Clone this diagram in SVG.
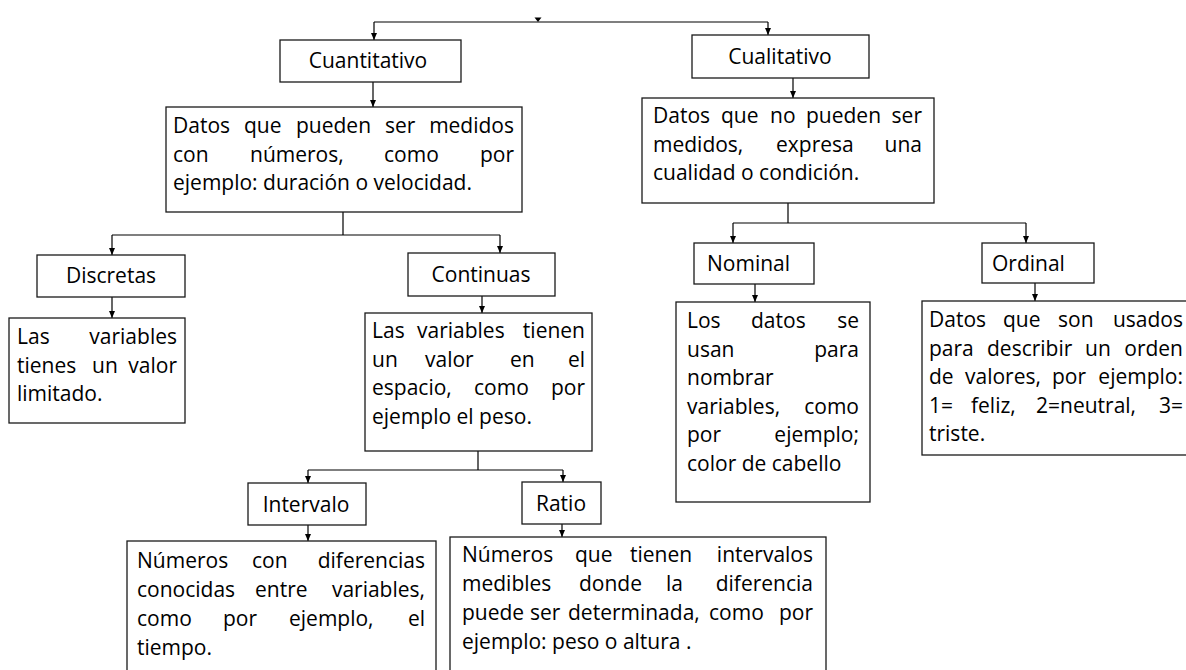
<svg xmlns="http://www.w3.org/2000/svg" width="1186" height="670" viewBox="0 0 1186 670">
<style>
.box{fill:#fff;stroke:#1a1a1a;stroke-width:1.3}
.t{font-family:"Open Sans","Liberation Sans",sans-serif;font-size:21px;fill:#000}
.c{text-anchor:middle}
.e{text-anchor:end}
.ln{stroke:#000;stroke-width:1.2;fill:none}
.ar{stroke:#000;stroke-width:1.2;fill:none;marker-end:url(#ah)}
</style>
<defs>
<marker id="ah" viewBox="0 0 7 6" refX="7" refY="3" markerWidth="7" markerHeight="6" markerUnits="userSpaceOnUse" orient="auto"><path d="M0,0 L7,3 L0,6 z" fill="#000"/></marker>
</defs>
<rect width="1186" height="670" fill="#fff"/>
<g id="connectors">
<path class="ln" d="M374,22 H768"/>
<polygon points="534.5,17.5 541.5,17.5 538,22" fill="#000"/>
<path class="ar" d="M374,22 V40"/>
<path class="ar" d="M768,22 V35"/>
<path class="ar" d="M373,82 V107"/>
<path class="ar" d="M793,78 V98"/>
<path class="ln" d="M343,212 V235 M112,235 H500"/>
<path class="ar" d="M112,235 V255"/>
<path class="ar" d="M500,235 V253"/>
<path class="ar" d="M112,297 V318"/>
<path class="ar" d="M482,296 V313"/>
<path class="ln" d="M788,203 V223 M733,223 H1026"/>
<path class="ar" d="M733,223 V243"/>
<path class="ar" d="M1026,223 V243"/>
<path class="ar" d="M755,284 V302"/>
<path class="ar" d="M1035,283 V301"/>
<path class="ln" d="M478,451 V470 M308,470 H563"/>
<path class="ar" d="M308,470 V483"/>
<path class="ar" d="M563,470 V482"/>
<path class="ar" d="M308,525 V541"/>
<path class="ar" d="M562,524 V537"/>
</g>
<g id="cuantitativo">
<rect class="box" x="280" y="40" width="181" height="42"/>
<text class="t c" x="368" y="68">Cuantitativo</text>
</g>
<g id="cualitativo">
<rect class="box" x="692" y="35" width="177" height="43"/>
<text class="t c" x="780" y="64">Cualitativo</text>
</g>
<g id="cuantitativo-desc">
<rect class="box" x="166" y="107" width="356" height="105"/>
<text class="t" y="133"><tspan x="173">Datos</tspan><tspan x="244">que</tspan><tspan x="296">pueden</tspan><tspan x="385">ser</tspan></text>
<text class="t e" x="514" y="133">medidos</text>
<text class="t" y="161.5"><tspan x="173">con</tspan><tspan x="250">números,</tspan><tspan x="384">como</tspan></text>
<text class="t e" x="514" y="161.5">por</text>
<text class="t" x="173" y="190">ejemplo: duración o velocidad.</text>
</g>
<g id="cualitativo-desc">
<rect class="box" x="642" y="98" width="292" height="105"/>
<text class="t" y="123"><tspan x="653">Datos</tspan><tspan x="721">que</tspan><tspan x="770">no</tspan><tspan x="806">pueden</tspan></text>
<text class="t e" x="922" y="123">ser</text>
<text class="t" y="151.5"><tspan x="653">medidos,</tspan><tspan x="776">expresa</tspan></text>
<text class="t e" x="922" y="151.5">una</text>
<text class="t" x="653" y="180">cualidad o condición.</text>
</g>
<g id="discretas">
<rect class="box" x="37" y="255" width="148" height="42"/>
<text class="t c" x="111" y="283">Discretas</text>
</g>
<g id="continuas">
<rect class="box" x="408" y="253" width="147" height="43"/>
<text class="t c" x="481" y="282">Continuas</text>
</g>
<g id="discretas-desc">
<rect class="box" x="9" y="318" width="176" height="105"/>
<text class="t" x="17" y="344">Las</text>
<text class="t e" x="177" y="344">variables</text>
<text class="t" y="372.5"><tspan x="17">tienes</tspan><tspan x="92">un</tspan></text>
<text class="t e" x="177" y="372.5">valor</text>
<text class="t" x="17" y="401">limitado.</text>
</g>
<g id="continuas-desc">
<rect class="box" x="365" y="313" width="227" height="138"/>
<text class="t" y="338"><tspan x="372">Las</tspan><tspan x="417">variables</tspan></text>
<text class="t e" x="585" y="338">tienen</text>
<text class="t" y="366.5"><tspan x="372">un</tspan><tspan x="425">valor</tspan><tspan x="510">en</tspan></text>
<text class="t e" x="585" y="366.5">el</text>
<text class="t" y="395"><tspan x="372">espacio,</tspan><tspan x="474">como</tspan></text>
<text class="t e" x="585" y="395">por</text>
<text class="t" x="372" y="423.5">ejemplo el peso.</text>
</g>
<g id="nominal">
<rect class="box" x="694" y="243" width="120" height="41"/>
<text class="t" x="707" y="271">Nominal</text>
</g>
<g id="ordinal">
<rect class="box" x="982" y="243" width="112" height="40"/>
<text class="t" x="992" y="270.5">Ordinal</text>
</g>
<g id="nominal-desc">
<rect class="box" x="676" y="302" width="194" height="200"/>
<text class="t" y="328"><tspan x="687">Los</tspan><tspan x="751">datos</tspan></text>
<text class="t e" x="859" y="328">se</text>
<text class="t" x="687" y="356.5">usan</text>
<text class="t e" x="859" y="356.5">para</text>
<text class="t" x="687" y="385">nombrar</text>
<text class="t" x="687" y="413.5">variables,</text>
<text class="t e" x="859" y="413.5">como</text>
<text class="t" x="687" y="442">por</text>
<text class="t e" x="859" y="442">ejemplo;</text>
<text class="t" x="687" y="470.5">color de cabello</text>
</g>
<g id="ordinal-desc">
<rect class="box" x="922" y="301" width="280" height="154"/>
<text class="t" y="327"><tspan x="929">Datos</tspan><tspan x="1003">que</tspan><tspan x="1058">son</tspan></text>
<text class="t e" x="1183" y="327">usados</text>
<text class="t" y="355.5"><tspan x="929">para</tspan><tspan x="987">describir</tspan><tspan x="1085">un</tspan></text>
<text class="t e" x="1183" y="355.5">orden</text>
<text class="t" y="384"><tspan x="929">de</tspan><tspan x="965">valores,</tspan><tspan x="1052">por</tspan></text>
<text class="t e" x="1183" y="384">ejemplo:</text>
<text class="t" y="412.5"><tspan x="929">1=</tspan><tspan x="971">feliz,</tspan><tspan x="1036">2=neutral,</tspan></text>
<text class="t e" x="1183" y="412.5">3=</text>
<text class="t" x="929" y="441">triste.</text>
</g>
<g id="intervalo">
<rect class="box" x="248" y="483" width="118" height="42"/>
<text class="t c" x="306" y="511.5">Intervalo</text>
</g>
<g id="ratio">
<rect class="box" x="522" y="482" width="79" height="42"/>
<text class="t c" x="561" y="510.5">Ratio</text>
</g>
<g id="intervalo-desc">
<rect class="box" x="127" y="541" width="309" height="150"/>
<text class="t" y="568"><tspan x="137">Números</tspan><tspan x="252">con</tspan></text>
<text class="t e" x="425" y="568">diferencias</text>
<text class="t" y="597"><tspan x="137">conocidas</tspan><tspan x="255">entre</tspan></text>
<text class="t e" x="425" y="597">variables,</text>
<text class="t" y="626"><tspan x="137">como</tspan><tspan x="223">por</tspan><tspan x="289">ejemplo,</tspan></text>
<text class="t e" x="425" y="626">el</text>
<text class="t" x="137" y="655">tiempo.</text>
</g>
<g id="ratio-desc">
<rect class="box" x="450" y="537" width="376" height="150"/>
<text class="t" y="562"><tspan x="462">Números</tspan><tspan x="575">que</tspan><tspan x="630">tienen</tspan></text>
<text class="t e" x="813" y="562">intervalos</text>
<text class="t" y="591"><tspan x="462">medibles</tspan><tspan x="579">donde</tspan><tspan x="666">la</tspan></text>
<text class="t e" x="813" y="591">diferencia</text>
<text class="t" y="620"><tspan x="462">puede</tspan><tspan x="530">ser</tspan><tspan x="568">determinada,</tspan><tspan x="709">como</tspan></text>
<text class="t e" x="813" y="620">por</text>
<text class="t" x="462" y="649">ejemplo: peso o altura .</text>
</g>
</svg>
